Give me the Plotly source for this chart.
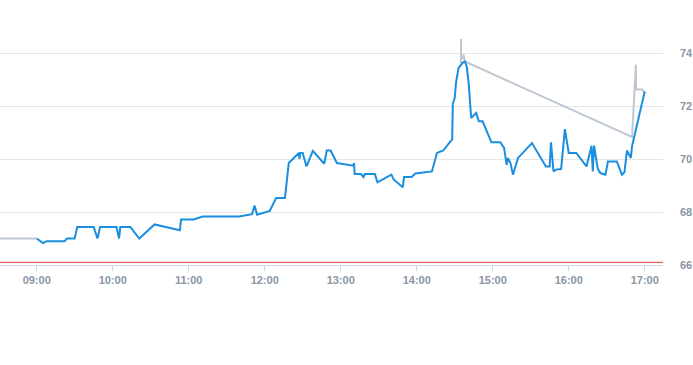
import plotly.graph_objects as go

DAY = "2024-01-02 "

blue_times = ["09:00", "09:05", "09:08", "09:22", "09:24", "09:30", "09:32", "09:45", "09:48", "09:50",
              "10:03", "10:05", "10:06", "10:14", "10:21", "10:33", "10:53", "10:54", "11:04", "11:11",
              "11:40", "11:50", "11:52", "11:54", "12:04", "12:09", "12:16", "12:19", "12:23", "12:27",
              "12:27:30", "12:28", "12:30", "12:33", "12:38", "12:47", "12:49", "12:52", "12:57", "13:10",
              "13:10:30", "13:11", "13:16", "13:18", "13:19", "13:27", "13:29", "13:40", "13:42", "13:49",
              "13:50", "13:56", "13:59", "14:12", "14:16", "14:21", "14:26", "14:28", "14:28:30", "14:30",
              "14:31", "14:33", "14:36", "14:38", "14:39:30", "14:41", "14:43", "14:45", "14:47", "14:48",
              "14:49", "14:52", "14:55", "14:59", "15:06", "15:09", "15:11", "15:12", "15:14", "15:16",
              "15:20", "15:31", "15:42", "15:45", "15:46", "15:48", "15:50", "15:54", "15:57", "16:00",
              "16:06", "16:08", "16:11", "16:14", "16:18", "16:19", "16:20", "16:23", "16:25", "16:29",
              "16:31", "16:38", "16:42", "16:44", "16:46", "16:49", "16:50", "17:00"]
blue_values = [67.0, 66.83, 66.9, 66.9, 67.0, 67.0, 67.43, 67.43, 67.0, 67.43,
               67.43, 67.0, 67.43, 67.43, 67.0, 67.53, 67.31, 67.72, 67.72, 67.83,
               67.83, 67.92, 68.24, 67.9, 68.04, 68.53, 68.53, 69.85, 70.04, 70.23,
               70.0, 70.23, 70.23, 69.72, 70.31, 69.82, 70.32, 70.32, 69.85, 69.75,
               69.85, 69.43, 69.43, 69.32, 69.43, 69.43, 69.12, 69.41, 69.22, 68.93,
               69.32, 69.32, 69.45, 69.53, 70.23, 70.32, 70.63, 70.73, 72.09, 72.3,
               72.87, 73.43, 73.62, 73.68, 73.49, 72.87, 71.55, 71.63, 71.74, 71.58,
               71.42, 71.42, 71.11, 70.63, 70.63, 70.42, 69.78, 70.04, 69.85, 69.41,
               70.04, 70.6, 69.72, 69.72, 70.63, 69.53, 69.6, 69.62, 71.13, 70.23,
               70.23, 70.1, 69.91, 69.72, 70.5, 69.53, 70.5, 69.62, 69.47, 69.41,
               69.91, 69.91, 69.41, 69.5, 70.32, 70.04, 70.48, 72.55]

gray_times = ["08:31", "09:00", None, "14:35", "14:35:01", "14:35:02", "14:36", "14:37", "14:38",
              "16:50", "16:53", "16:53:10", "16:58", "17:00"]
gray_values = [67.0, 67.0, None, 73.62, 74.53, 73.81, 73.81, 73.94, 73.68,
               70.83, 73.56, 72.62, 72.62, 72.51]

threshold_value = 66.1
y_ticks = [66, 68, 70, 72, 74]
x_ticks = ["09:00", "10:00", "11:00", "12:00", "13:00", "14:00", "15:00", "16:00", "17:00"]


def ts(t):
    if t is None:
        return None
    return DAY + (t if t.count(":") == 2 else t + ":00")


fig = go.Figure()
fig.add_trace(go.Scatter(x=[ts(t) for t in gray_times], y=gray_values, mode="lines",
                         line=dict(color="#bfc8d2", width=2), connectgaps=False,
                         hoverinfo="skip", showlegend=False))
fig.add_trace(go.Scatter(x=[ts(t) for t in blue_times], y=blue_values, mode="lines",
                         line=dict(color="#1a8fe0", width=2), showlegend=False))
fig.add_hline(y=threshold_value, line=dict(color="#d2403c", width=1))

fig.update_layout(
    width=693, height=365,
    margin=dict(l=0, r=30, t=0, b=100),
    paper_bgcolor="white", plot_bgcolor="white",
    font=dict(family="Liberation Sans, Arial, sans-serif", size=11, color="#8896a6"),
    xaxis=dict(
        type="date", automargin=False,
        range=[ts("08:31:02"), ts("17:14:26")],
        tickvals=[ts(t) for t in x_ticks], ticktext=x_ticks,
        showgrid=False, showline=True, linecolor="#ccd6eb", linewidth=1,
        ticks="outside", ticklen=5, tickcolor="#ccd6eb",
        tickfont=dict(size=11, color="#8896a6", weight="bold"),
        zeroline=False,
    ),
    yaxis=dict(
        side="right", range=[66, 76], tickvals=y_ticks, automargin=False,
        showgrid=True, gridcolor="#e6e6e6", gridwidth=1,
        zeroline=False, showline=False, ticks="",
        ticklabelstandoff=16,
        tickfont=dict(size=11, color="#8896a6", weight="bold"),
    ),
)

fig.write_html("out.html", config={"displayModeBar": False},
               post_script="document.body.style.margin='0';")
